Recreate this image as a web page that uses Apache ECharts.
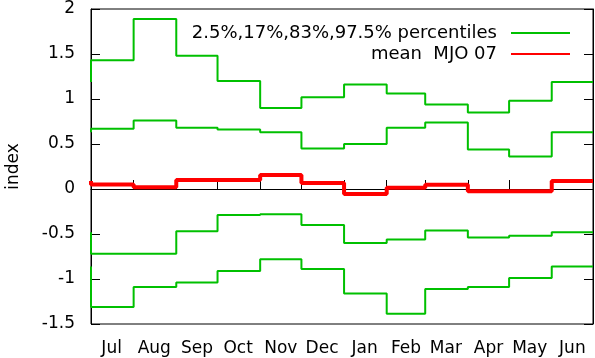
<!DOCTYPE html>
<html><head><meta charset="utf-8">
<script src="https://cdn.jsdelivr.net/npm/echarts@6/dist/echarts.min.js"></script>
<style>html,body{margin:0;padding:0;background:#fff}#c{width:595px;height:358px}</style>
</head><body><div id="c"></div>
<script>
var months = ['Jul','Aug','Sep','Oct','Nov','Dec','Jan','Feb','Mar','Apr','May','Jun'];
var monthDays = [31,31,30,31,30,31,31,28,31,30,31,30];
var p975 = [1.43,1.89,1.48,1.20,0.90,1.02,1.16,1.06,0.94,0.85,0.98,1.19];
var p83  = [0.67,0.76,0.68,0.66,0.63,0.45,0.50,0.68,0.74,0.44,0.36,0.63];
var p17  = [-0.72,-0.72,-0.47,-0.29,-0.28,-0.40,-0.60,-0.56,-0.46,-0.54,-0.52,-0.48];
var p025 = [-1.31,-1.09,-1.04,-0.91,-0.78,-0.89,-1.16,-1.385,-1.11,-1.09,-0.99,-0.86];
var mean = [0.05,0.02,0.10,0.10,0.155,0.068,-0.056,0.014,0.046,-0.024,-0.024,0.09];
var yTicks = [-1.5,-1,-0.5,0,0.5,1,1.5,2];

var pctName = '2.5%,17%,83%,97.5% percentiles';
var meanName = 'mean  MJO 07';
var FONT = 'DejaVu Sans';

var starts = [], acc = 0;
for (var i = 0; i < monthDays.length; i++) { starts.push(acc); acc += monthDays[i]; }
var total = acc;
var days = [];
for (var d = 0; d <= total; d++) days.push(d);
var tickIdx = {}, labelIdx = {};
for (var i = 1; i < starts.length; i++) tickIdx[starts[i]] = true;
for (var i = 0; i < starts.length; i++) labelIdx[Math.floor(starts[i] + monthDays[i] / 2)] = i;

function stepData(vals) {
  var out = [[0, vals[vals.length - 1]]];
  for (var i = 0; i < vals.length; i++) out.push([starts[i], vals[i]]);
  out.push([total, vals[vals.length - 1]]);
  return out;
}
function green(vals) {
  return { name: pctName, type: 'line', step: 'end', symbol: 'none', data: stepData(vals),
    lineStyle: { color: '#00c000', width: 2 }, itemStyle: { color: '#00c000' }, z: 2, silent: true };
}

var chart = echarts.init(document.getElementById('c'), null, { renderer: 'canvas' });
chart.setOption({
  animation: false,
  backgroundColor: '#fff',
  grid: { left: 91, right: 2, top: 9, bottom: 34, outerBoundsMode: 'none', containLabel: false,
    show: true, borderColor: '#000', borderWidth: 1 },
  legend: {
    orient: 'vertical', right: 19, top: 19, align: 'right',
    itemWidth: 59, itemHeight: 14, itemGap: 3,
    data: [pctName, meanName],
    itemStyle: { opacity: 0 },
    textStyle: { fontFamily: FONT, fontSize: 18, color: '#000', padding: [0, 9, 0, 0] },
    selectedMode: false
  },
  xAxis: {
    type: 'category', data: days, boundaryGap: false,
    axisLine: { show: true, lineStyle: { color: '#000', width: 1 } },
    axisTick: { show: true, inside: true, length: 9, lineStyle: { color: '#000' },
      interval: function (idx) { return !!tickIdx[idx]; } },
    axisLabel: { show: true, fontFamily: FONT, fontSize: 17, color: '#000', margin: 16,
      interval: function (idx) { return labelIdx[idx] !== undefined; },
      formatter: function (v, idx) { return labelIdx[idx] !== undefined ? months[labelIdx[idx]] : ''; } },
    splitLine: { show: false }
  },
  yAxis: [{
    type: 'value', min: yTicks[0], max: yTicks[yTicks.length - 1], interval: 0.5,
    name: 'index', nameLocation: 'middle', nameGap: 69, nameRotate: 90,
    nameTextStyle: { fontFamily: FONT, fontSize: 17, color: '#000' },
    axisLine: { show: true, lineStyle: { color: '#000', width: 1 } },
    axisTick: { show: true, inside: true, length: 9, lineStyle: { color: '#000' } },
    axisLabel: { fontFamily: FONT, fontSize: 17, color: '#000', margin: 16 },
    splitLine: { show: false }
  }, {
    type: 'value', position: 'right', min: yTicks[0], max: yTicks[yTicks.length - 1], interval: 0.5,
    axisLine: { show: true, lineStyle: { color: '#000', width: 1 } },
    axisTick: { show: true, inside: true, length: 9, lineStyle: { color: '#000' } },
    axisLabel: { show: false }, splitLine: { show: false }
  }],
  series: [
    green(p975), green(p83), green(p17), green(p025),
    { name: meanName, type: 'line', step: 'end', symbol: 'none', data: stepData(mean),
      lineStyle: { color: '#ff0000', width: 4 }, itemStyle: { color: '#ff0000' }, z: 3, silent: true,
      markLine: { silent: true, symbol: ['none', 'none'], label: { show: false },
        lineStyle: { color: '#000', width: 1, type: [2, 2] }, data: [{ yAxis: 0 }], z: 1 } }
  ]
});
// keep small step risers (ECharts skips path segments under 2px by default)
(function () {
  var zr = chart.getZr();
  zr.storage.getDisplayList(true).forEach(function (el) {
    if (el.shape && el.shape.points && el.segmentIgnoreThreshold) {
      el.segmentIgnoreThreshold = 0.01;
      if (el.path && el.path.setScale) el.path.setScale(1, 1, 0.01);
      el.dirtyShape();
    }
  });
  zr.refreshImmediately();
})();
</script></body></html>
